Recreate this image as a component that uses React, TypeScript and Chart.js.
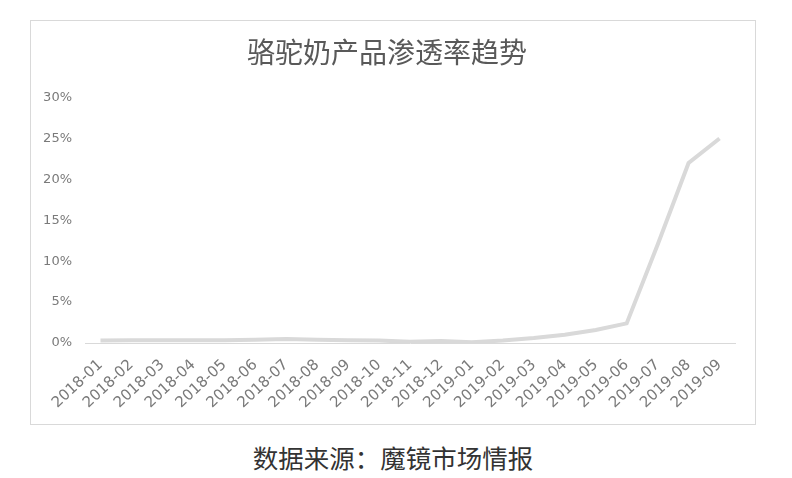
import { useEffect, useRef } from "react";
import { Chart, registerables } from "chart.js";

Chart.register(...registerables);

const months = [
  "2018-01", "2018-02", "2018-03", "2018-04", "2018-05", "2018-06", "2018-07",
  "2018-08", "2018-09", "2018-10", "2018-11", "2018-12", "2019-01", "2019-02",
  "2019-03", "2019-04", "2019-05", "2019-06", "2019-07", "2019-08", "2019-09",
];

// 渗透率 (%)
const penetration = [
  0.3, 0.35, 0.35, 0.35, 0.35, 0.4, 0.5, 0.4, 0.35, 0.3, 0.15, 0.25, 0.1, 0.3,
  0.6, 1.0, 1.6, 2.4, 12.0, 22.0, 25.0,
];

const yTicks = [0, 5, 10, 15, 20, 25, 30];

const chartTitle = "骆驼奶产品渗透率趋势";
const sourceText = "数据来源：魔镜市场情报";

export default function App() {
  const canvasRef = useRef<HTMLCanvasElement>(null);
  const chartRef = useRef<Chart | null>(null);

  useEffect(() => {
    if (!canvasRef.current) return;
    if (chartRef.current) chartRef.current.destroy();

    const ctx = canvasRef.current.getContext("2d");
    if (!ctx) return;

    chartRef.current = new Chart(ctx, {
      type: "line",
      data: {
        labels: months,
        datasets: [
          {
            data: penetration,
            borderColor: "#d9d9d9",
            borderWidth: 4,
            pointRadius: 0,
            tension: 0,
            fill: false,
          },
        ],
      },
      options: {
        animation: false,
        responsive: true,
        maintainAspectRatio: false,
        layout: { padding: { left: 8, right: 20, top: 0, bottom: 0 } },
        plugins: {
          legend: { display: false },
          tooltip: { enabled: false },
          title: {
            display: true,
            text: chartTitle,
            color: "#595959",
            font: { size: 28, family: "'Noto Sans CJK SC', sans-serif", weight: "normal" },
            padding: { top: 15, bottom: 28 },
          },
        },
        scales: {
          x: {
            offset: true,
            grid: { display: false, drawTicks: false },
            border: { display: true, color: "#d9d9d9", width: 1 },
            ticks: {
              color: "#7a7a7a",
              font: { size: 15, family: "'DejaVu Sans', sans-serif" },
              minRotation: 43,
              maxRotation: 43,
              autoSkip: false,
              padding: 13,
            },
            afterFit: (scale: any) => {
              scale.height = 81;
            },
          },
          y: {
            min: 0,
            max: 30,
            afterBuildTicks: (scale: any) => {
              scale.ticks = yTicks.map((v) => ({ value: v }));
            },
            grid: { display: false, drawTicks: false },
            border: { display: false },
            ticks: {
              color: "#7a7a7a",
              font: { size: 13, family: "'DejaVu Sans', sans-serif" },
              padding: 13,
              callback: (v: any) => `${v}%`,
            },
            afterFit: (scale: any) => {
              scale.width = 46;
            },
          },
        },
      },
    });

    return () => {
      if (chartRef.current) {
        chartRef.current.destroy();
        chartRef.current = null;
      }
    };
  }, []);

  return (
    <div
      style={{
        position: "absolute",
        left: 0,
        top: 0,
        width: 792,
        height: 478,
        background: "#fff",
      }}
    >
      <div
        style={{
          position: "absolute",
          left: 30,
          top: 20,
          width: 724,
          height: 403,
          border: "1px solid #d9d9d9",
        }}
      >
        <canvas ref={canvasRef} />
      </div>
      <div
        style={{
          position: "absolute",
          left: 0,
          top: 439,
          width: 786,
          textAlign: "center",
          fontSize: 25.5,
          lineHeight: "36px",
          color: "#333",
          fontFamily: "'Noto Sans CJK SC', sans-serif",
        }}
      >
        {sourceText}
      </div>
    </div>
  );
}
